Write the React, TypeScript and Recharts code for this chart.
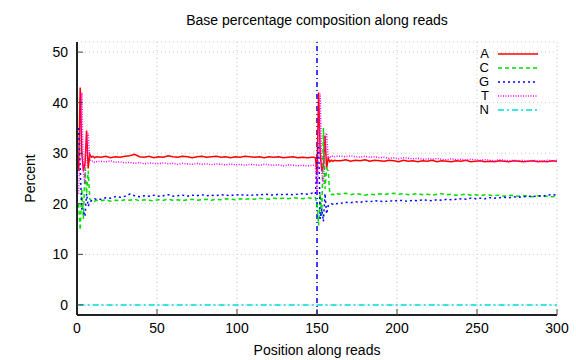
import React from "react";
import { CartesianGrid, Line, LineChart, ReferenceLine, XAxis, YAxis } from "recharts";

// read positions (dense around the two spike regions, every 3rd elsewhere)
const positions = [
  1, 2, 3, 4, 5, 6, 7, 8, 9, 10, 11, 12,
  15, 18, 21, 24, 27, 30, 33, 36, 39, 42, 45, 48, 51, 54, 57, 60, 63, 66, 69, 72, 75, 78, 81, 84, 87, 90,
  93, 96, 99, 102, 105, 108, 111, 114, 117, 120, 123, 126, 129, 132, 135, 138, 141, 144, 147,
  148, 149, 150, 151, 152, 153, 154, 155, 156, 157, 158, 159, 160, 161, 162,
  165, 168, 171, 174, 177, 180, 183, 186, 189, 192, 195, 198, 201, 204, 207, 210, 213, 216, 219, 222, 225,
  228, 231, 234, 237, 240, 243, 246, 249, 252, 255, 258, 261, 264, 267, 270, 273, 276, 279, 282, 285, 288,
  291, 294, 297, 300,
];

const aValues = [
  26.5, 43, 30, 26.5, 28, 34.5, 27, 29.8, 29.2, 29.4, 29.1, 29.3,
  29.2, 29.4, 29.1, 29.3, 29.2, 29.4, 29.5, 29.8, 29.3, 29.2, 29.4, 29.1, 29.3, 29.2, 29.5, 29.3, 29.2, 29.4, 29.3, 29.1, 29.3, 29.4, 29.2, 29.3, 29.4, 29.2,
  29.3, 29.1, 29.3, 29.2, 29.4, 29.3, 29.2, 29.3, 29.1, 29.3, 29.2, 29.3, 29.1, 29.2, 29.3, 29.1, 29.2, 29.1, 29.2,
  29.2, 29.1, 26, 42, 30, 26.5, 27.5, 33.5, 27, 29, 28.3, 28.6, 28.4, 28.6, 28.5,
  28.5, 28.7, 28.4, 28.6, 28.5, 28.7, 28.4, 28.6, 28.5, 28.4, 28.6, 28.5, 28.3, 28.6, 28.4, 28.5, 28.3, 28.5, 28.4, 28.6, 28.3,
  28.5, 28.4, 28.3, 28.5, 28.4, 28.6, 28.3, 28.4, 28.5, 28.3, 28.4, 28.3, 28.5, 28.4, 28.3, 28.5, 28.4, 28.3, 28.4, 28.5, 28.3,
  28.4, 28.3, 28.5, 28.4,
];

const cValues = [
  20, 14.8, 23, 17, 27, 22, 26.5, 21, 20.6, 20.8, 20.5, 20.7,
  20.6, 20.8, 20.5, 20.7, 20.6, 20.8, 20.7, 20.9, 20.6, 20.8, 20.7, 20.6, 20.8, 20.7, 20.9, 20.7, 20.8, 20.6, 20.8, 20.9, 20.7, 20.8, 20.9, 20.7, 20.9, 20.8,
  21.0, 20.9, 20.8, 21.0, 20.9, 21.0, 20.9, 21.1, 21.0, 20.9, 21.1, 21.0, 21.1, 21.0, 21.2, 21.1, 21.0, 21.2, 21.1,
  21.1, 21.2, 20, 15.7, 22, 17.5, 35, 23, 27, 26.5, 22, 21.8, 21.9, 21.7, 22.0,
  21.9, 22.1, 21.8, 22.0, 21.9, 21.7, 21.9, 21.8, 22.0, 21.8, 22.0, 22.1, 21.9, 22.0, 21.8, 21.9, 22.0, 21.8, 21.9, 21.7, 21.9,
  22.0, 21.8, 21.9, 21.7, 21.8, 21.9, 21.7, 21.8, 21.6, 21.8, 21.7, 21.6, 21.7, 21.5, 21.7, 21.6, 21.5, 21.6, 21.5, 21.4, 21.6,
  21.4, 21.5, 21.4, 21.5,
];

const gValues = [
  35, 27, 19, 18.5, 17.5, 22, 19.5, 20.3, 20.6, 20.8, 21, 20.9,
  20.9, 21.2, 21.1, 21.4, 21.3, 21.5, 21.9, 21.6, 21.4, 21.6, 21.5, 21.7, 21.5, 21.6, 21.8, 21.5, 21.6, 21.7, 21.5, 21.7, 21.6, 21.8, 21.6, 21.7, 21.6, 21.8,
  21.7, 21.6, 21.8, 21.7, 21.8, 21.6, 21.8, 21.7, 21.9, 21.8, 21.7, 21.9, 21.8, 21.9, 21.8, 21.9, 22.0, 21.9, 22.1,
  22.0, 21.9, 28, 32, 17, 19, 16.5, 22, 18, 19.6, 19.8, 20, 19.9, 20.1, 20.0,
  20.1, 20.3, 20.2, 20.4, 20.3, 20.5, 20.4, 20.6, 20.5, 20.4, 20.6, 20.5, 20.7, 20.6, 20.5, 20.7, 20.6, 20.8, 20.7, 20.6, 20.8,
  20.7, 20.9, 20.8, 20.9, 21.0, 20.9, 21.1, 21.0, 21.1, 21.0, 21.2, 21.1, 21.2, 21.3, 21.2, 21.4, 21.3, 21.4, 21.5, 21.4, 21.6,
  21.5, 21.7, 21.8, 21.7,
];

const tValues = [
  22, 31, 42, 26, 24, 33, 34, 28.8, 28.4, 28.5, 28.2, 28.3,
  28.4, 28.3, 28.5, 28.2, 28.3, 28.1, 28.2, 28.0, 28.2, 27.9, 28.1, 28.0, 27.9, 28.1, 27.9, 28.0, 27.8, 28.0, 27.9, 27.8, 28.0, 27.8, 27.9, 27.7, 27.9, 27.8,
  27.7, 27.9, 27.7, 27.8, 27.6, 27.8, 27.7, 27.6, 27.8, 27.7, 27.6, 27.7, 27.5, 27.7, 27.6, 27.5, 27.6, 27.5, 27.6,
  27.6, 27.5, 22, 30, 41.8, 26, 24, 33, 34, 29, 29.4, 29.2, 29.5, 29.3, 29.4,
  29.4, 29.3, 29.5, 29.3, 29.2, 29.4, 29.2, 29.3, 29.1, 29.2, 29.0, 29.1, 28.9, 29.1, 29.0, 28.9, 29.0, 28.8, 28.9, 28.8, 29.0,
  28.8, 28.7, 28.9, 28.7, 28.8, 28.6, 28.8, 28.7, 28.6, 28.7, 28.6, 28.5, 28.7, 28.6, 28.5, 28.6, 28.5, 28.6, 28.4, 28.6, 28.5,
  28.4, 28.6, 28.5, 28.6,
];

const nValues = [
  0, 0, 0, 0, 0, 0, 0, 0, 0, 0, 0, 0,
  0, 0, 0, 0, 0, 0, 0, 0, 0, 0, 0, 0, 0, 0, 0, 0, 0, 0, 0, 0, 0, 0, 0, 0, 0, 0,
  0, 0, 0, 0, 0, 0, 0, 0, 0, 0, 0, 0, 0, 0, 0, 0, 0, 0, 0,
  0, 0, 0, 0, 0, 0, 0, 0, 0, 0, 0, 0, 0, 0, 0,
  0, 0, 0, 0, 0, 0, 0, 0, 0, 0, 0, 0, 0, 0, 0, 0, 0, 0, 0, 0, 0,
  0, 0, 0, 0, 0, 0, 0, 0, 0, 0, 0, 0, 0, 0, 0, 0, 0, 0, 0, 0, 0,
  0, 0, 0, 0,
];

const xTicks = [0, 50, 100, 150, 200, 250, 300];
const yTicks = [0, 10, 20, 30, 40, 50];
const seriesNames = ["A", "C", "G", "T", "N"];

const seriesStyle: Record<string, { color: string; dash?: string }> = {
  A: { color: "#ff0000" },
  C: { color: "#00dd00", dash: "4 3" },
  G: { color: "#0000ff", dash: "2 3" },
  T: { color: "#ff00ff", dash: "1 1.5" },
  N: { color: "#00dddd", dash: "6 3 2 3" },
};

const rows = positions.map((pos, i) => ({
  pos,
  A: aValues[i],
  C: cValues[i],
  G: gValues[i],
  T: tValues[i],
  N: nValues[i],
}));

const font = '"Liberation Sans", Arial, Helvetica, sans-serif';

function LegendBox() {
  return (
    <div style={{ position: "absolute", left: 469, top: 47, fontFamily: font, fontSize: 13, color: "#000" }}>
      {seriesNames.map((name) => (
        <div key={name} style={{ display: "flex", alignItems: "center", height: 14 }}>
          <span style={{ width: 20, textAlign: "right", lineHeight: "14px" }}>{name}</span>
          <svg width={50} height={14}>
            <line
              x1={9}
              x2={49}
              y1={7}
              y2={7}
              stroke={seriesStyle[name].color}
              strokeWidth={1.5}
              strokeDasharray={seriesStyle[name].dash}
            />
          </svg>
        </div>
      ))}
    </div>
  );
}

export default function App() {
  const tickStyle = { fill: "#000", fontSize: 14, fontFamily: font };
  const axisLine = { stroke: "#222", strokeWidth: 2 };
  const tickLine = { stroke: "#444" };
  return (
    <div style={{ position: "absolute", left: 0, top: 0, width: 576, height: 360, background: "#fff" }}>
      <div
        style={{
          position: "absolute",
          left: 77,
          width: 480,
          top: 12,
          textAlign: "center",
          fontFamily: font,
          fontSize: 14,
          lineHeight: "16px",
        }}
      >
        Base percentage composition along reads
      </div>
      <LineChart width={576} height={360} data={rows} margin={{ top: 42, right: 19, bottom: 0, left: 0 }}>
        <CartesianGrid stroke="#c8c8c8" strokeDasharray="1 3" />
        <XAxis
          dataKey="pos"
          type="number"
          domain={[0, 300]}
          ticks={xTicks}
          height={45}
          tickSize={-6}
          tickMargin={14}
          tick={tickStyle}
          axisLine={axisLine}
          tickLine={tickLine}
          label={{ value: "Position along reads", position: "insideBottom", offset: 5, fill: "#000", fontSize: 14, fontFamily: font }}
        />
        <XAxis
          xAxisId="top"
          orientation="top"
          dataKey="pos"
          type="number"
          domain={[0, 300]}
          ticks={xTicks}
          height={0}
          tickSize={-6}
          tickFormatter={() => ""}
          axisLine={axisLine}
          tickLine={tickLine}
        />
        <YAxis
          type="number"
          domain={[-2, 52]}
          ticks={yTicks}
          width={77}
          tickSize={-6}
          tickMargin={15}
          tick={tickStyle}
          axisLine={axisLine}
          tickLine={tickLine}
          label={{ value: "Percent", angle: -90, position: "insideLeft", offset: 30, fill: "#000", fontSize: 14, fontFamily: font, style: { textAnchor: "middle" } }}
        />
        <YAxis
          yAxisId="r"
          orientation="right"
          type="number"
          domain={[-2, 52]}
          ticks={yTicks}
          width={0}
          tickSize={-6}
          tickFormatter={() => ""}
          axisLine={axisLine}
          tickLine={tickLine}
        />
        <ReferenceLine x={150} stroke="#0000ff" strokeWidth={1.5} strokeDasharray="5 3 1 3" />
        {seriesNames.map((name) => (
          <Line
            key={name}
            dataKey={name}
            name={name}
            type="linear"
            dot={false}
            stroke={seriesStyle[name].color}
            strokeWidth={1.5}
            strokeDasharray={seriesStyle[name].dash}
            xAxisId={name === "N" ? "top" : 0}
            yAxisId={name === "N" ? "r" : 0}
            isAnimationActive={false}
          />
        ))}
      </LineChart>
      <LegendBox />
    </div>
  );
}
